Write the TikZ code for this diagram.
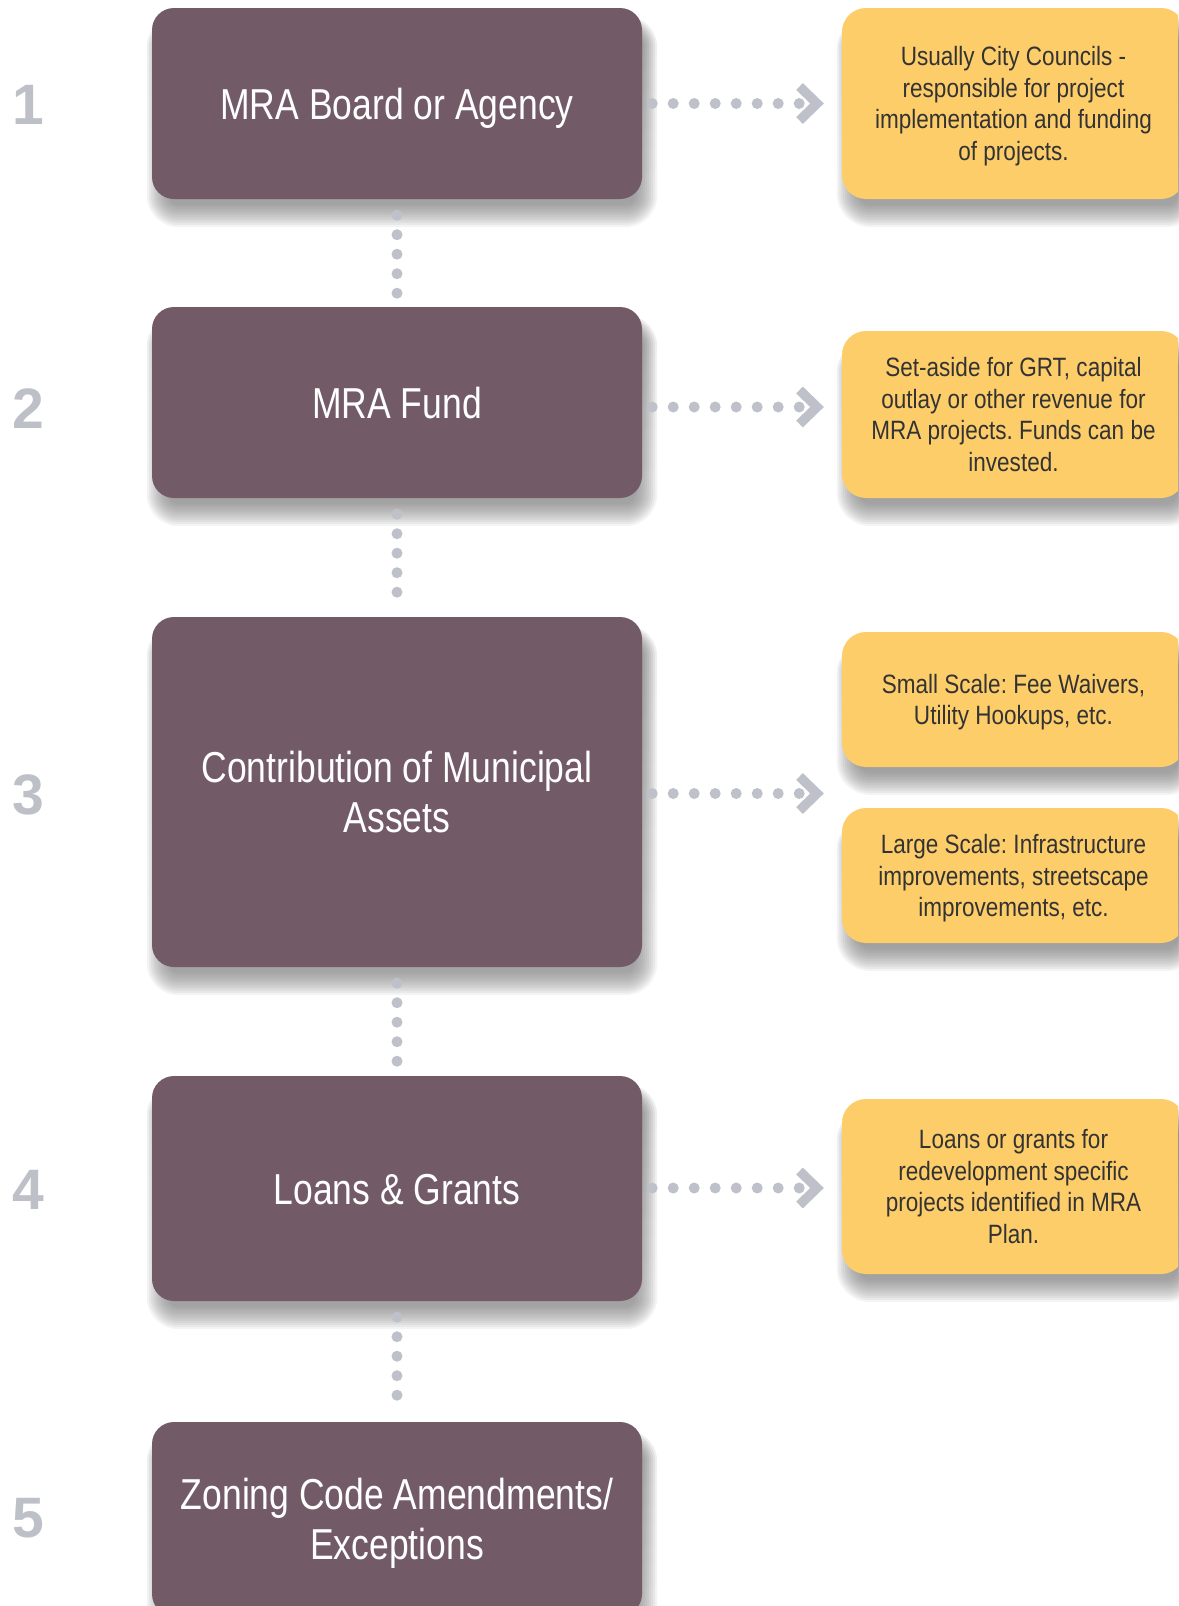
\documentclass[tikz,border=0pt]{standalone}
\usepackage{fontspec}
\setmainfont{Liberation Sans}[FakeStretch=0.82]
\newfontfamily\notefont{Liberation Sans}[FakeStretch=0.85]
\newfontfamily\numfont{Liberation Sans}
\usetikzlibrary{backgrounds}
\definecolor{plum}{HTML}{725B67}
\definecolor{gold}{HTML}{FDCD6A}
\definecolor{dotgray}{HTML}{BFC1CA}
\definecolor{numgray}{HTML}{BEC0C8}
\definecolor{ink}{HTML}{333333}
\definecolor{shade}{HTML}{C4C6D0}
\newcommand\boxshade[2]{%
  \foreach \d in {10,8,...,-12}{%
    \pgfmathsetmacro\rr{#2+\d}%
    \pgfmathsetmacro\ma{5-\d}%
    \pgfmathsetmacro\mb{18-\d}%
    \pgfmathsetmacro\mc{18+\d}%
    \pgfmathsetmacro\md{5+\d}%
    \fill[shade, opacity=0.045, rounded corners=\rr pt] ([shift={(\ma,\mb)}]#1.north west) rectangle ([shift={(\md,\mc)}]#1.south east);
  }}
% lines of a centred block, baseline at the first line, raised by #1
\newcommand\tlines[2]{\raisebox{#1}{\vtop{\halign{\hfil##\hfil\cr#2\crcr}}}}
\begin{document}
\frenchspacing
\begin{tikzpicture}[x=1pt,y=-1pt,
  stepbox/.style={rectangle, rounded corners=22pt, fill=plum, text=white, minimum width=490pt, inner sep=0pt, text height=0pt, text depth=0pt, font=\fontsize{43.3}{50}\selectfont},
  notebox/.style={rectangle, rounded corners=24pt, fill=gold, text=ink, minimum width=343pt, inner sep=0pt, text height=0pt, text depth=0pt, font=\notefont\fontsize{26.5}{31.8}\selectfont},
  numlabel/.style={text=numgray, font=\numfont\bfseries\fontsize{57}{57}\selectfont, inner sep=0pt},
  vdots/.style={draw=dotgray, line width=11pt, line cap=round, dash pattern=on 0pt off 19.5pt},
  hdots/.style={draw=dotgray, line width=11pt, line cap=round, dash pattern=on 0pt off 21pt},
  chev/.style={draw=dotgray, line width=9.5pt, line join=miter}
]
\path[use as bounding box, clip] (0,0) rectangle (1178,1606);

% step boxes
\node[stepbox, minimum height=191pt] (b1) at (397,103.5) {\tlines{-15.5pt}{MRA Board or Agency}};
\node[stepbox, minimum height=191pt] (b2) at (397,402.5) {\tlines{-15.5pt}{MRA Fund}};
\node[stepbox, minimum height=350pt] (b3) at (397,792) {\tlines{9.5pt}{Contribution of Municipal\cr Assets}};
\node[stepbox, minimum height=225pt] (b4) at (397,1188.5) {\tlines{-15.5pt}{Loans \& Grants}};
\node[stepbox, minimum height=194pt] (b5) at (397,1519) {\tlines{9.5pt}{Zoning Code Amendments/\cr Exceptions}};

% notes
\node[notebox, minimum height=191pt] (y1) at (1013.5,103.5) {\tlines{38.2pt}{Usually City Councils -\cr responsible for project\cr implementation and funding\cr of projects.}};
\node[notebox, minimum height=167pt] (y2) at (1013.5,414.5) {\tlines{38.2pt}{Set-aside for GRT, capital\cr outlay or other revenue for\cr MRA projects. Funds can be\cr invested.}};
\node[notebox, minimum height=135pt] (y3a) at (1013.5,699.5) {\tlines{6.4pt}{Small Scale: Fee Waivers,\cr Utility Hookups, etc.}};
\node[notebox, minimum height=135pt] (y3b) at (1013.5,875.5) {\tlines{22.3pt}{Large Scale: Infrastructure\cr improvements, streetscape\cr improvements, etc.}};
\node[notebox, minimum height=175pt] (y4) at (1013.5,1186.5) {\tlines{38.2pt}{Loans or grants for\cr redevelopment specific\cr projects identified in MRA\cr Plan.}};

% soft shadows
\begin{scope}[on background layer]
  \fill[white] (0,0) rectangle (1178,1606);
  \boxshade{b1}{22}\boxshade{b2}{22}\boxshade{b3}{22}\boxshade{b4}{22}\boxshade{b5}{22}
  \boxshade{y1}{24}\boxshade{y2}{24}\boxshade{y3a}{24}\boxshade{y3b}{24}\boxshade{y4}{24}
\end{scope}

% numbers
\node[numlabel] (n1) at (28,105) {1};
\node[numlabel] (n2) at (28,409) {2};
\node[numlabel] (n3) at (28,795) {3};
\node[numlabel] (n4) at (28,1190) {4};
\node[numlabel] (n5) at (28,1518) {5};

% vertical dotted connectors
\draw[vdots, shorten <=16pt, shorten >=13.5pt] (b1) -- (b2);
\draw[vdots, shorten <=16pt, shorten >=24pt] (b2) -- (b3);
\draw[vdots, shorten <=16pt, shorten >=13.5pt] (b3) -- (b4);
\draw[vdots, shorten <=16pt, shorten >=25.5pt] (b4) -- (b5);

% horizontal dotted arrows
\coordinate (t1) at (799.5,103.5);
\coordinate (t2) at (799.5,407);
\coordinate (t3) at (799.5,793.5);
\coordinate (t4) at (799.5,1188);
\foreach \b/\t in {b1/t1,b2/t2,b3/t3,b4/t4}{
  \draw[hdots] (\b.east |- \t) ++(10,0) -- (\t);
  \draw[chev] ([shift={(0,-17)}]\t) -- ([shift={(17.5,0)}]\t) -- ([shift={(0,17)}]\t);
}
\end{tikzpicture}
\end{document}
